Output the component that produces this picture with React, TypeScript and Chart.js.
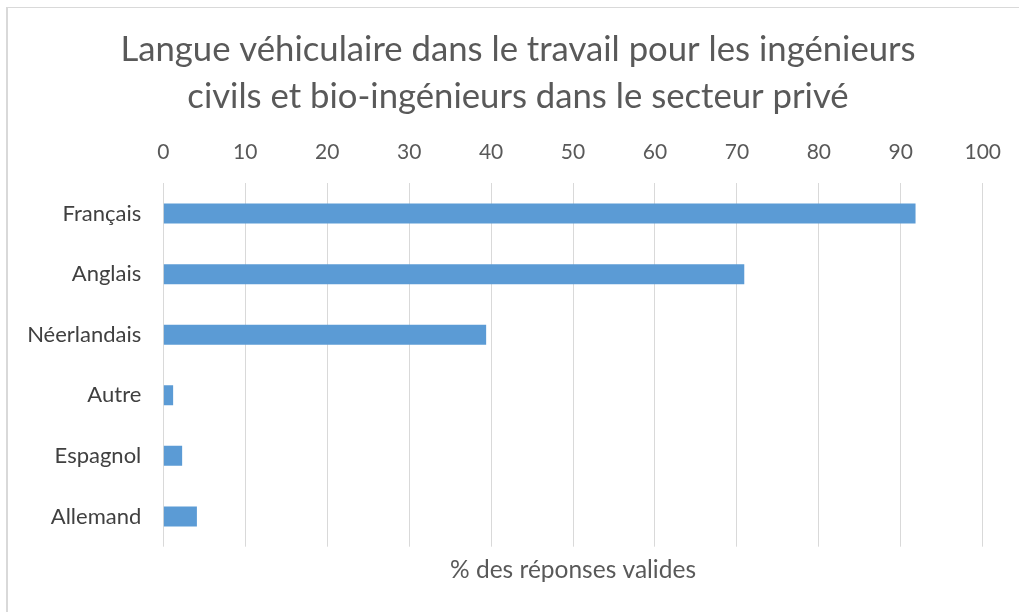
import React, { useEffect, useRef } from "react";
import { Chart, registerables } from "chart.js";

Chart.register(...registerables);

const categories = ["Français", "Anglais", "Néerlandais", "Autre", "Espagnol", "Allemand"];
const values = [91.8, 70.9, 39.4, 1.2, 2.3, 4.1];
const titleLines = [
  "Langue véhiculaire dans le travail pour les ingénieurs",
  "civils et bio-ingénieurs dans le secteur privé",
];
const axisTitle = "% des réponses valides";

const FONT = "Lato, 'Open Sans', sans-serif";

export default function App() {
  const ref = useRef<HTMLCanvasElement | null>(null);

  useEffect(() => {
    if (!ref.current) return;
    const chart = new Chart(ref.current, {
      type: "bar",
      data: {
        labels: categories,
        datasets: [
          {
            data: values,
            backgroundColor: "#5b9bd5",
            categoryPercentage: 1,
            barPercentage: 0.33,
          },
        ],
      },
      options: {
        indexAxis: "y",
        animation: false,
        responsive: false,
        maintainAspectRatio: false,
        layout: { padding: { left: 17, right: 0, top: 0, bottom: 0 } },
        plugins: {
          legend: { display: false },
          tooltip: { enabled: false },
          title: {
            display: true,
            text: titleLines,
            color: "#595959",
            font: { family: FONT, size: 34.7, weight: "normal", lineHeight: 47 / 34.7 },
            padding: { top: 26.5, bottom: 0 },
          },
        },
        scales: {
          x: {
            position: "top",
            min: 0,
            max: 100,
            ticks: {
              stepSize: 10,
              color: "#595959",
              font: { family: FONT, size: 21 },
              padding: 18,
            },
            grid: { color: "#d9d9d9", lineWidth: 1, drawTicks: false },
            border: { display: false },
            afterFit: (s: any) => {
              s.height = 62.8;
            },
          },
          x2: {
            axis: "x",
            position: "bottom",
            min: 0,
            max: 100,
            ticks: { display: false },
            grid: { display: false, drawTicks: false },
            border: { display: false },
            title: {
              display: true,
              text: axisTitle,
              color: "#595959",
              font: { family: FONT, size: 24.5 },
              padding: { top: 0, bottom: 27 },
            },
            afterFit: (s: any) => {
              s.height = 65.3;
            },
          },
          y: {
            ticks: {
              color: "#404040",
              font: { family: FONT, size: 22 },
              padding: 22,
            },
            grid: { display: false, drawTicks: false },
            border: { display: false },
            afterFit: (s: any) => {
              s.width = 146.3;
            },
          },
          y2: {
            axis: "y",
            type: "category",
            position: "right",
            ticks: { display: false },
            grid: { display: false, drawTicks: false },
            border: { display: false },
            afterFit: (s: any) => {
              s.width = 34.7;
            },
          },
        },
      },
    } as any);
    return () => chart.destroy();
  }, []);

  return (
    <div style={{ position: "fixed", left: 0, top: 0, width: 1019, height: 612, background: "#ffffff" }}>
      <canvas ref={ref} width={1019} height={612} style={{ position: "absolute", left: 0, top: 0, width: 1019, height: 612 }} />
      <div style={{ position: "absolute", left: 6, top: 7, width: 2, height: 605, background: "#d9d9d9" }} />
      <div style={{ position: "absolute", left: 6, top: 7, width: 1013, height: 1, background: "#d9d9d9" }} />
    </div>
  );
}
